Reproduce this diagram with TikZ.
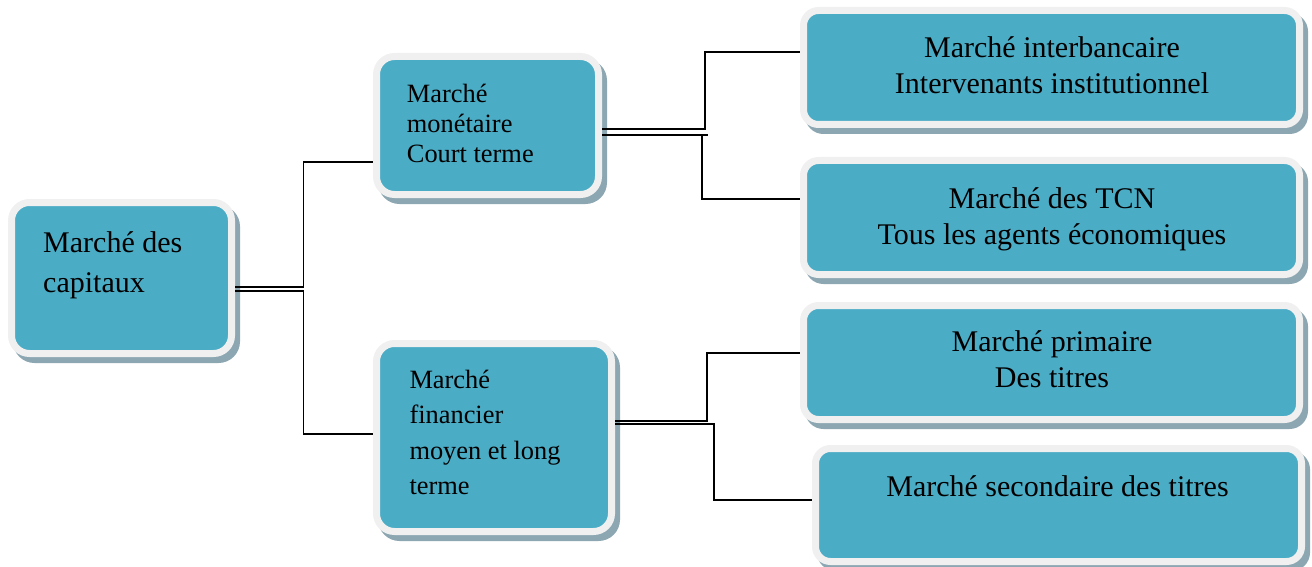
\documentclass[tikz,border=0pt]{standalone}
\usepackage{fontspec}
\setmainfont{Liberation Serif}
\usetikzlibrary{shadows}

\definecolor{boxfill}{HTML}{4BACC6}
\definecolor{boxframe}{HTML}{F0F0F0}
\definecolor{boxshadow}{HTML}{8CA7B2}

\tikzset{
  market/.style={rectangle, rounded corners=#1, fill=boxfill, draw=boxframe,
    line width=7pt, inner sep=0pt,
    drop shadow={shadow xshift=5pt, shadow yshift=-6pt, fill=boxshadow,
      draw=boxshadow, line width=7pt, opacity=1}},
  market/.default=18pt,
  conn/.style={draw=black, line width=1.9pt, line join=miter},
  % multi-line labels are placed by the baseline of their last line
  lefttxt/.style={inner sep=0pt, align=left, anchor=base west, text=black},
  righttxt/.style={inner sep=0pt, align=center, anchor=base, text=black,
    font=\fontsize{30}{36}\selectfont},
}

\begin{document}
\begin{tikzpicture}[x=1pt, y=-1pt]
  \useasboundingbox (0,0) rectangle (1312,567);

  % boxes
  \node[market, minimum width=220pt, minimum height=151pt] (capitaux) at (121.5,278) {};
  \node[market, minimum width=222pt, minimum height=138pt] (monetaire) at (487.5,125.5) {};
  \node[market, minimum width=235pt, minimum height=188pt] (financier) at (494,437.5) {};
  \node[market=15pt, minimum width=496pt, minimum height=114pt] (interbancaire) at (1051.5,67.5) {};
  \node[market=15pt, minimum width=496pt, minimum height=114pt] (tcn) at (1051.5,217.5) {};
  \node[market=15pt, minimum width=496pt, minimum height=114pt] (primaire) at (1051.5,362.5) {};
  \node[market=15pt, minimum width=486pt, minimum height=113pt] (secondaire) at (1058.5,505) {};

  % box texts
  \node[lefttxt, font=\fontsize{30}{40}\selectfont] (capitaux-t) at (43,292.7)
    {Marché des\\capitaux};
  \node[lefttxt, font=\fontsize{26.4}{30}\selectfont] (monetaire-t) at (406.7,162.7)
    {Marché\\monétaire\\Court terme};
  \node[lefttxt, font=\fontsize{26.4}{35.5}\selectfont] (financier-t) at (409.3,494.5)
    {Marché\\financier\\moyen et long\\terme};
  \node[righttxt] (interbancaire-t) at (1052,93.3)
    {Marché interbancaire\\Intervenants institutionnel};
  \node[righttxt] (tcn-t) at (1052,244)
    {Marché des TCN\\Tous les agents économiques};
  \node[righttxt] (primaire-t) at (1052,387.3)
    {Marché primaire\\Des titres};
  \node[righttxt] (secondaire-t) at (1057.5,496.7)
    {Marché secondaire des titres};

  % connectors
  \draw[conn] ([yshift=-9pt]capitaux.east) -- ++(68.5,0) |- ([yshift=-36.5pt]monetaire.west);
  \draw[conn] ([yshift=-13pt]capitaux.east) -- ++(68.5,0) |- ([yshift=3.5pt]financier.west);
  \draw[conn] ([yshift=-3.5pt]monetaire.east) -- ++(103,0) |- ([yshift=15.5pt]interbancaire.west);
  \draw[conn] ([yshift=-9.5pt]monetaire.east) -- ++(106,0) ++(-6,0) |- ([yshift=18.5pt]tcn.west);
  \draw[conn] ([yshift=16.5pt]financier.east) -- ++(92,0) |- ([yshift=9.5pt]primaire.west);
  \draw[conn] ([yshift=13.5pt]financier.east) -- ++(99,0) |- ([yshift=5pt]secondaire.west);
\end{tikzpicture}
\end{document}
